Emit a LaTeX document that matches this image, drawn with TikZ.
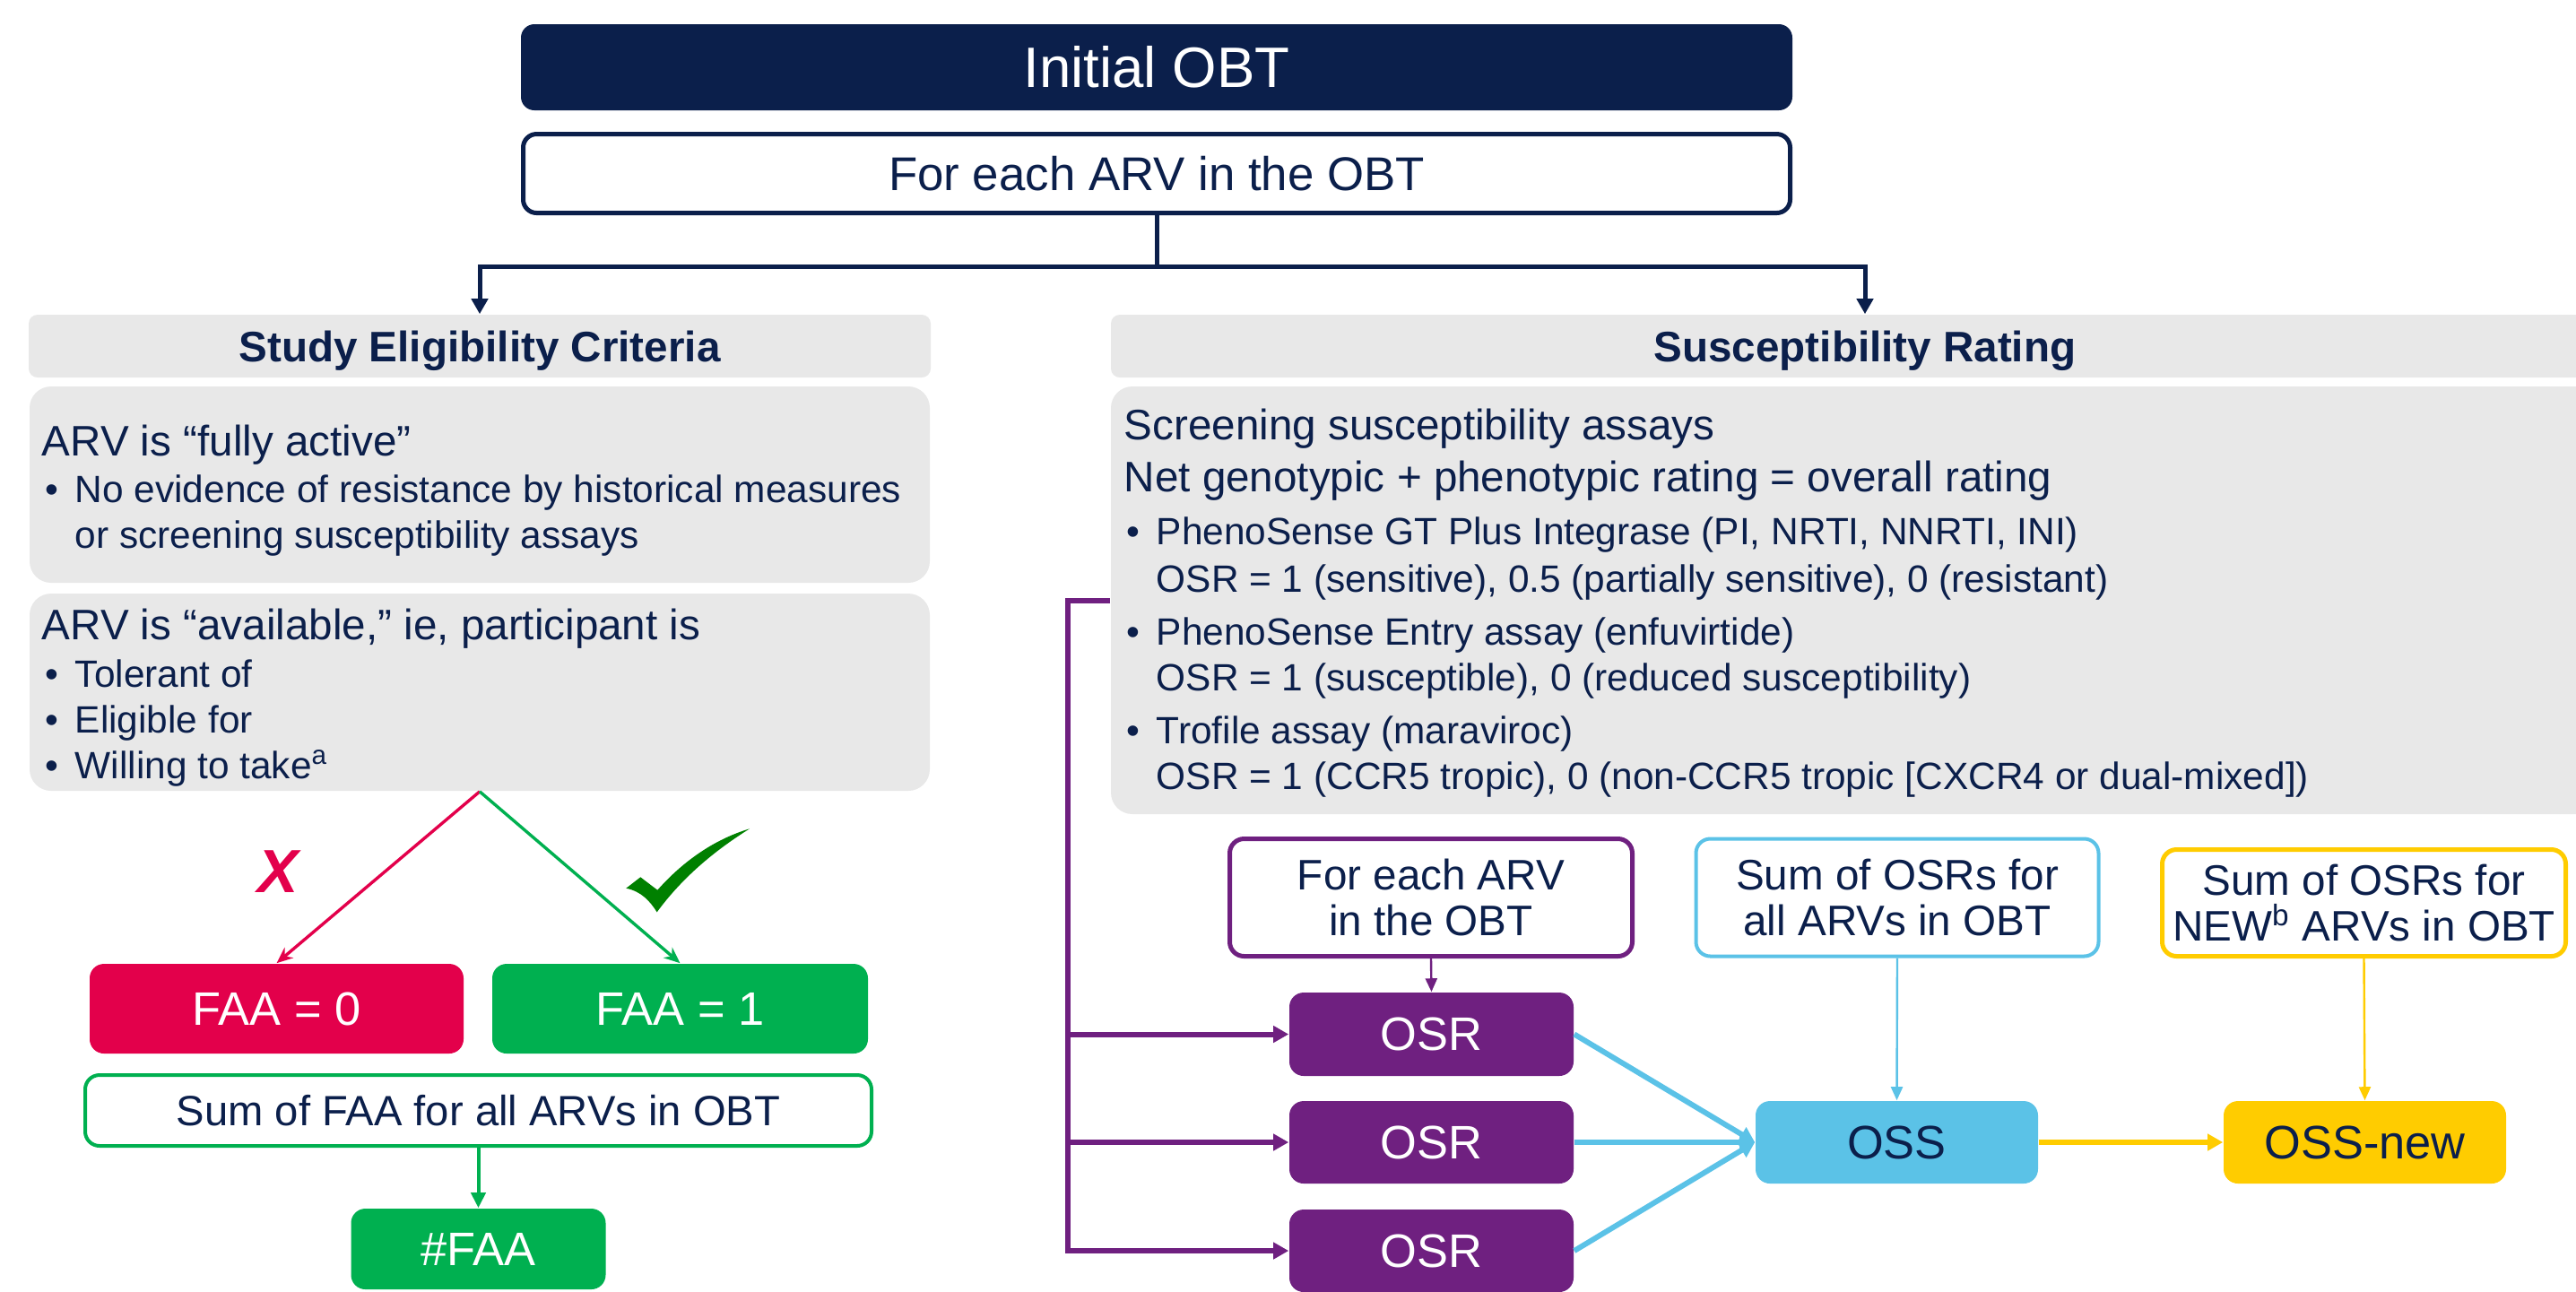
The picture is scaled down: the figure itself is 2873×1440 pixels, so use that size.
\documentclass[tikz,border=0pt]{standalone}
\usepackage{fontspec}
\setmainfont{Liberation Sans}
\usetikzlibrary{arrows.meta}
\definecolor{navy}{HTML}{0B1F4B}
\definecolor{lgray}{HTML}{E8E8E8}
\definecolor{rred}{HTML}{E3004B}
\definecolor{ggreen}{HTML}{00B050}
\definecolor{checkg}{HTML}{008000}
\definecolor{purp}{HTML}{6F2080}
\definecolor{lblue}{HTML}{5BC2E7}
\definecolor{yell}{HTML}{FFCC00}
\newcommand{\myfs}[1]{\fontsize{#1pt}{#1pt}\selectfont}
\newcommand{\myfsb}[2]{\fontsize{#1pt}{#2pt}\selectfont}
\newcommand{\bul}{\makebox[8.25pt][l]{•}}
\tikzset{
  box/.style 2 args={rectangle, inner sep=0pt, minimum width=#1*0.25pt, minimum height=#2*0.25pt, align=center},
  txt/.style={anchor=base west, inner sep=0pt, text=navy},
  bigt/.style={txt, font=\myfs{11.9}},
  bult/.style={txt, font=\myfs{10.6}},
  hdrtxt/.style={anchor=base, inner sep=0pt, text=navy, font=\bfseries\myfs{11.9}},
  navyarrow/.style={draw=navy, line width=1.25pt, -{Triangle[length=4.25pt,width=4.5pt]}},
  thickpurp/.style={draw=purp, line width=1.5pt},
  thickarr/.style={line width=1.5pt, -{Triangle[length=4.25pt,width=4.5pt]}},
  thinarr/.style={line width=0.6pt, -{Triangle[length=3.75pt,width=3.25pt]}},
  diagarr/.style={line width=0.85pt, -{Stealth[length=4.5pt,width=3.75pt]}},
}
\begin{document}
\begin{tikzpicture}[x=0.25pt,y=-0.25pt]
\useasboundingbox (0,0) rectangle (2873,1440);
\clip (0,0) rectangle (2873,1440);
\fill[white] (0,0) rectangle (2873,1440);

% top boxes
\node[box={1418}{96}, fill=navy, rounded corners=3.75pt, text=white, font=\myfs{15.9}] (obt) at (1290,75) {Initial OBT};
\node[box={1413}{88}, draw=navy, line width=1.25pt, fill=white, rounded corners=3.75pt, text=navy, font=\myfs{13.2}] (each) at (1290,193.5) {For each ARV in the OBT};

% headers
\node[box={1006}{70}, fill=lgray, rounded corners=2.5pt] (hdrL) at (535,386) {};
\node[box={1682}{70}, fill=lgray, rounded corners=2.5pt] (hdrR) at (2080,386) {};
\node[hdrtxt] (hdrLt) at (535,403) {Study Eligibility Criteria};
\node[hdrtxt] (hdrRt) at (2080,403) {Susceptibility Rating};

% body boxes
\node[box={1004}{219}, fill=lgray, rounded corners=6pt] (boxA) at (535,540.5) {};
\node[box={1004}{220}, fill=lgray, rounded corners=6pt] (boxB) at (535,772) {};
\node[box={1682}{477}, fill=lgray, rounded corners=6pt] (boxR) at (2080,669.5) {};

% left texts
\node[bigt] (ta1) at (46,508) {ARV is “fully active”};
\node[bult] (ta2) at (50,560) {\bul No evidence of resistance by historical measures};
\node[bult] (ta3) at (83,611) {or screening susceptibility assays};
\node[bigt] (tb1) at (46,713) {ARV is “available,” ie, participant is};
\node[bult] (tb2) at (50,766) {\bul Tolerant of};
\node[bult] (tb3) at (50,817) {\bul Eligible for};
\node[bult] (tb4) at (50,868) {\bul Willing to take\textsuperscript{a}};

% right texts
\node[bigt] (tr1) at (1253,490) {Screening susceptibility assays};
\node[bigt] (tr2) at (1253,548) {Net genotypic + phenotypic rating = overall rating};
\node[bult] (tr3) at (1256,607) {\bul PhenoSense GT Plus Integrase (PI, NRTI, NNRTI, INI)};
\node[bult] (tr4) at (1289,660) {OSR = 1 (sensitive), 0.5 (partially sensitive), 0 (resistant)};
\node[bult] (tr5) at (1256,719) {\bul PhenoSense Entry assay (enfuvirtide)};
\node[bult] (tr6) at (1289,770) {OSR = 1 (susceptible), 0 (reduced susceptibility)};
\node[bult] (tr7) at (1256,829) {\bul Trofile assay (maraviroc)};
\node[bult] (tr8) at (1289,880) {OSR = 1 (CCR5 tropic), 0 (non-CCR5 tropic [CXCR4 or dual-mixed])};

% left bottom
\node[box={417}{100}, fill=rred, rounded corners=4pt, text=white, font=\myfs{13.1}] (faa0) at (308.5,1125) {FAA = 0};
\node[box={419}{100}, fill=ggreen, rounded corners=4pt, text=white, font=\myfs{13.1}] (faa1) at (758.5,1125) {FAA = 1};
\node[box={877}{79}, draw=ggreen, line width=1pt, fill=white, rounded corners=4pt, text=navy, font=\myfs{11.8}] (sumfaa) at (533.5,1238.5) {Sum of FAA for all ARVs in OBT};
\node[box={284}{90}, fill=ggreen, rounded corners=4pt, text=white, font=\myfs{13.1}] (nfaa) at (533.5,1393) {\#FAA};

\node[text=rred, font=\bfseries\itshape\myfs{17}, inner sep=0pt] (xmark) at (310,972) {X};
\fill[checkg] (698.3,990.7) -- (714.3,978.3) -- (733.3,992.7)
  .. controls (755,968) and (790,938) .. (836,924.3)
  .. controls (795,950) and (760,980) .. (732.7,1017.3)
  .. controls (725,1005) and (715,994) .. (698.3,990.7) -- cycle;

% right bottom
\node[box={449}{131}, draw=purp, line width=1.25pt, fill=white, rounded corners=4pt, text=navy, font=\myfsb{11.9}{12.75}] (each2) at (1596,1001) {For each ARV\\in the OBT};
\node[box={449}{131}, draw=lblue, line width=1pt, fill=white, rounded corners=4pt, text=navy, font=\myfsb{11.9}{12.75}] (sumall) at (2116,1001) {Sum of OSRs for\\all ARVs in OBT};
\node[box={450}{119}, draw=yell, line width=1.25pt, fill=white, rounded corners=4pt, text=navy, font=\myfsb{11.9}{12.75}] (sumnew) at (2636.5,1007) {Sum of OSRs for\\NEW\textsuperscript{b} ARVs in OBT};

\node[box={317}{93}, fill=purp, rounded corners=4pt, text=white, font=\myfs{13.1}] (osr1) at (1596.5,1153.5) {OSR};
\node[box={317}{92}, fill=purp, rounded corners=4pt, text=white, font=\myfs{13.1}] (osr2) at (1596.5,1274) {OSR};
\node[box={317}{92}, fill=purp, rounded corners=4pt, text=white, font=\myfs{13.1}] (osr3) at (1596.5,1395) {OSR};
\node[box={315}{92}, fill=lblue, rounded corners=4pt, text=navy, font=\myfs{13.1}] (oss) at (2115.5,1274) {OSS};
\node[box={315}{92}, fill=yell, rounded corners=4pt, text=navy, font=\myfs{13.1}] (ossnew) at (2637.5,1274) {OSS-new};

% navy connectors
\coordinate (j) at (1290,297);
\draw[navy, line width=1.25pt] (each.south) -- (j);
\draw[navyarrow] (j) -| (hdrL.north);
\draw[navyarrow] (j) -| (hdrR.north);

% left connectors
\draw[rred, diagarr] (boxB.south) -- (faa0.north);
\draw[ggreen, diagarr] (boxB.south) -- (faa1.north);
\draw[ggreen, line width=1pt, -{Triangle[length=4.25pt,width=4pt]}] (sumfaa.south) -- (nfaa.north);

% purple connectors
\coordinate (pv) at (1191,669.5);
\draw[thickpurp] (boxR.west) -- (pv) -- (pv |- osr2.west);
\draw[purp, thickarr] (pv |- osr1.west) -- (osr1.west);
\draw[purp, thickarr] (pv |- osr2.west) -- (osr2.west);
\draw[purp, thickarr] (pv |- osr2.west) |- (osr3.west);
\draw[purp, thinarr] (each2.south) -- (osr1.north);

% blue and yellow
\draw[lblue, thickarr] (osr1.east) -- (oss.west);
\draw[lblue, thickarr] (osr2.east) -- (oss.west);
\draw[lblue, thickarr] (osr3.east) -- (oss.west);
\draw[lblue, thinarr] (sumall.south) -- (oss.north);
\draw[yell, thinarr] (sumnew.south) -- (ossnew.north);
\draw[yell, thickarr] (oss.east) -- (ossnew.west);
\end{tikzpicture}
\end{document}
